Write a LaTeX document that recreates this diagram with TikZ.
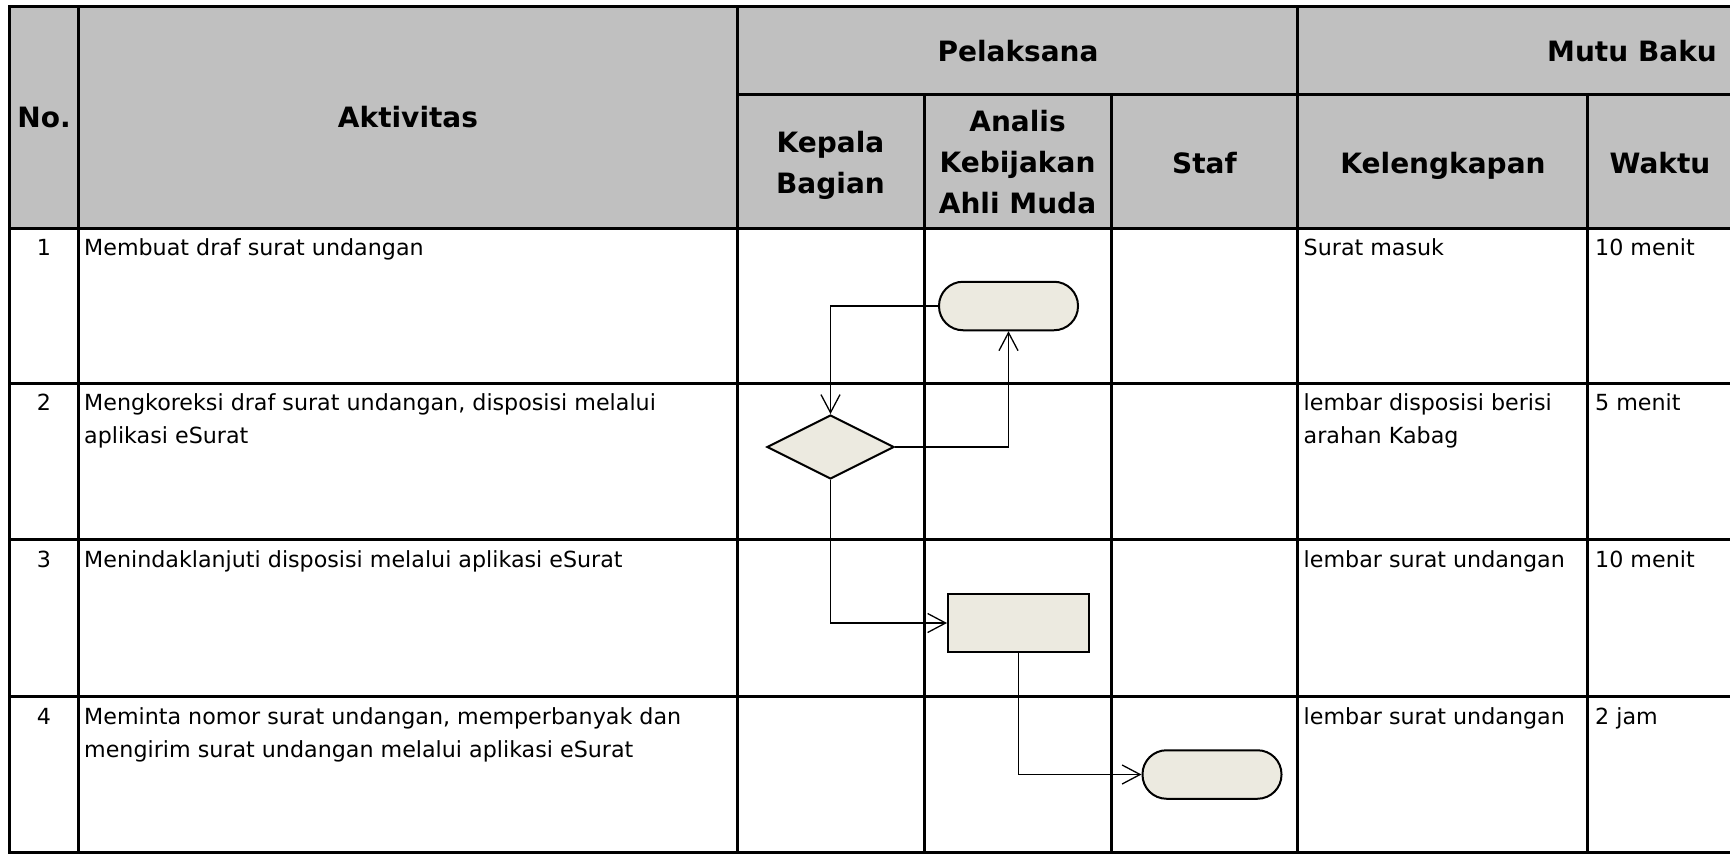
\documentclass[tikz,border=0pt]{standalone}
\usepackage{fontspec}
\setmainfont{DejaVu Sans}
\usetikzlibrary{arrows.meta,shapes.geometric}
\definecolor{hdrgray}{RGB}{192,192,192}
\definecolor{shpfill}{RGB}{236,234,224}
\tikzset{
  tbl/.style  = {line width=3pt},
  hd/.style   = {font=\fontsize{28}{41}\selectfont\bfseries, align=center,
                 anchor=base, inner sep=0pt},
  txt/.style  = {font=\fontsize{22.2}{33}\selectfont, align=left,
                 anchor=base west, inner sep=0pt},
  num/.style  = {font=\fontsize{22.2}{33}\selectfont, anchor=base, inner sep=0pt},
  term/.style = {rectangle, rounded corners=24pt, draw, line width=2pt,
                 fill=shpfill, minimum width=139pt, minimum height=48.5pt, inner sep=0pt},
  dec/.style  = {diamond, draw, line width=2pt, fill=shpfill,
                 minimum width=127pt, minimum height=64pt, inner sep=0pt},
  proc/.style = {rectangle, draw, line width=2pt, fill=shpfill,
                 minimum width=141pt, minimum height=58pt, inner sep=0pt},
  flw/.style  = {line width=1.3pt, -{Straight Barb[length=18pt,width=19pt]}},
}
\begin{document}
\begin{tikzpicture}[x=1pt,y=-1pt]
  \useasboundingbox (0,0) rectangle (1730,854);
  % table grid
  \fill[hdrgray] (9.5,6.5) rectangle (1730,228);
  \draw[tbl] (1730,6.5) -- (9.5,6.5) -- (9.5,852.5) -- (1730,852.5);
  \draw[tbl] (737,94) -- (1730,94);
  \foreach \y in {228,383,539,696} \draw[tbl] (9.5,\y) -- (1730,\y);
  \foreach \x in {78.5,737,1297.5} \draw[tbl] (\x,6.5) -- (\x,852.5);
  \foreach \x in {924,1111,1587.5} \draw[tbl] (\x,94) -- (\x,852.5);
  % header (base = last line)
  \node[hd] (hno)   at (44,127)     {No.};
  \node[hd] (hakt)  at (408,127)    {Aktivitas};
  \node[hd] (hpel)  at (1018,61)    {Pelaksana};
  \node[hd] (hmutu) at (1632,61)    {Mutu Baku};
  \node[hd] (hkab)  at (830.5,193)  {Kepala\\Bagian};
  \node[hd] (hakb)  at (1017.5,213) {Analis\\Kebijakan\\Ahli Muda};
  \node[hd] (hstf)  at (1204.5,173) {Staf};
  \node[hd] (hkel)  at (1443,173)   {Kelengkapan};
  \node[hd] (hwkt)  at (1660,173)   {Waktu};
  % rows
  \node[num] (n1) at (44,255)     {1};
  \node[txt] (a1) at (84,255)     {Membuat draf surat undangan};
  \node[txt] (k1) at (1303.5,255) {Surat masuk};
  \node[txt] (w1) at (1595,255)   {10 menit};
  \node[num] (n2) at (44,410.5)     {2};
  \node[txt] (a2) at (84,443.5)     {Mengkoreksi draf surat undangan, disposisi melalui\\aplikasi eSurat};
  \node[txt] (k2) at (1303.5,443.5) {lembar disposisi berisi\\arahan Kabag};
  \node[txt] (w2) at (1595,410.5)   {5 menit};
  \node[num] (n3) at (44,567)     {3};
  \node[txt] (a3) at (84,567)     {Menindaklanjuti disposisi melalui aplikasi eSurat};
  \node[txt] (k3) at (1303.5,567) {lembar surat undangan};
  \node[txt] (w3) at (1595,567)   {10 menit};
  \node[num] (n4) at (44,724)     {4};
  \node[txt] (a4) at (84,757)     {Meminta nomor surat undangan, memperbanyak dan\\mengirim surat undangan melalui aplikasi eSurat};
  \node[txt] (k4) at (1303.5,724) {lembar surat undangan};
  \node[txt] (w4) at (1595,724)   {2 jam};
  % flow
  \node[term] (mulai)   at (1008.5,306) {};
  \node[dec]  (koreksi) at (830.5,447)  {};
  \node[proc] (tindak)  at (1018.5,623) {};
  \node[term] (selesai) at (1212,774.5) {};
  \draw[flw] (mulai.west) -| (koreksi.north);
  \draw[flw] (koreksi.east) -| (mulai.south);
  \draw[flw] (koreksi.south) |- (tindak.west);
  \draw[flw] (tindak.south) |- (selesai.west);
\end{tikzpicture}
\end{document}
